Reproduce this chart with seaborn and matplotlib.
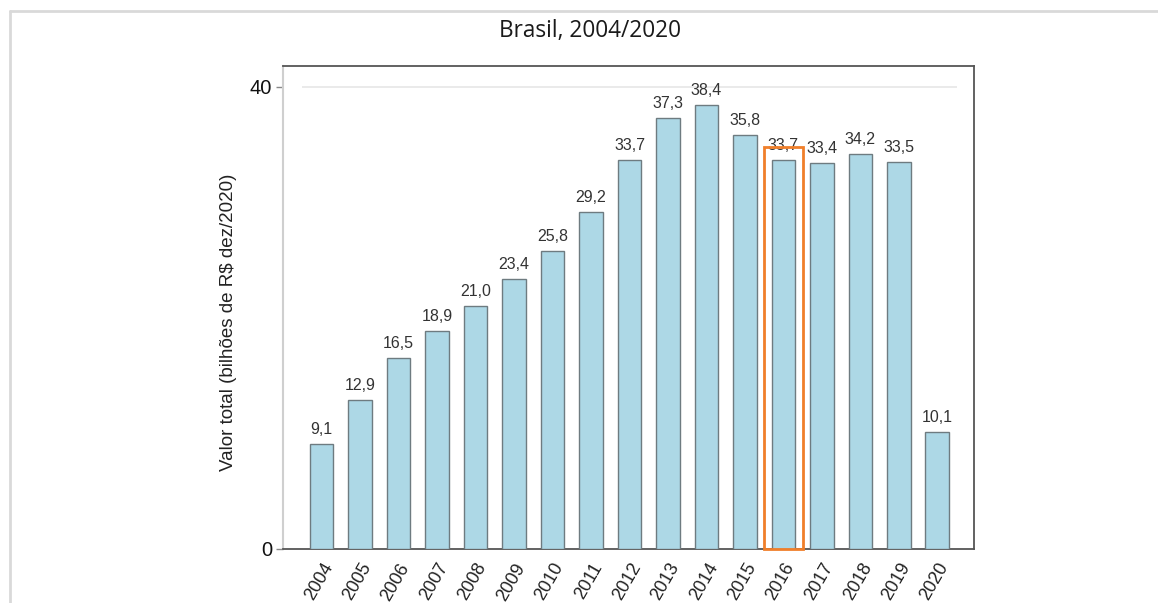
import matplotlib
matplotlib.use("Agg")
import matplotlib.pyplot as plt
from matplotlib.lines import Line2D
from matplotlib.patches import Rectangle
import seaborn as sns
import pandas as pd

# Annual totals, billions of R$ (Dec/2020 prices)
years = ["2004", "2005", "2006", "2007", "2008", "2009", "2010", "2011", "2012",
         "2013", "2014", "2015", "2016", "2017", "2018", "2019", "2020"]
values = [9.1, 12.9, 16.5, 18.9, 21.0, 23.4, 25.8, 29.2, 33.7,
          37.3, 38.4, 35.8, 33.7, 33.4, 34.2, 33.5, 10.1]
highlight_year = "2016"
highlight_top = 34.8

df = pd.DataFrame({"ano": years, "valor": values})

sns.set_theme(style="white")
plt.rcParams["font.family"] = ["Liberation Sans", "DejaVu Sans"]

fig = plt.figure(figsize=(11.58, 6.03), dpi=100)
ax = fig.add_axes([283 / 1158, 1 - 549 / 603, (974 - 283) / 1158, (549 - 66) / 603])

sns.barplot(data=df, x="ano", y="valor", ax=ax, color="#add8e6", saturation=1,
            width=0.62, edgecolor="#6e7b80", linewidth=1.0, zorder=3)

ax.set_ylim(0, 41.8)
ax.set_xlim(-1.0, len(years) - 0.05)
ax.set_yticks([0, 40])
ax.set_yticklabels(["0", "40"], fontsize=14.5, color="#111111")

# light reference line at 40
ax.hlines(40, -0.5, len(years) - 0.5, color="#e6e6e6", linewidth=1.2, zorder=1)

# value labels
for i, v in enumerate(values):
    ax.text(i, v + 0.6, f"{v:.1f}".replace(".", ","), ha="center", va="bottom",
            fontsize=11.5, color="#333333", zorder=5)

# highlighted year
hi = years.index(highlight_year)
ax.add_patch(Rectangle((hi - 0.5, 0), 1.0, highlight_top, fill=False,
                       edgecolor="#f07f2a", linewidth=2.0, zorder=6, clip_on=False))

ax.set_xlabel("")
ax.set_ylabel("Valor total (bilhões de R$ dez/2020)", fontsize=13.5, color="#222222")
ax.yaxis.set_label_coords(-0.066, 0.47)
plt.setp(ax.get_xticklabels(), rotation=60, ha="right", rotation_mode="anchor",
         fontsize=13, color="#222222")

ax.tick_params(axis="y", which="both", left=True, length=5, width=1, color="#888888", pad=3)
ax.tick_params(axis="x", which="both", bottom=False, pad=2)

for side in ["top", "right", "bottom"]:
    ax.spines[side].set_color("#555555")
    ax.spines[side].set_linewidth(1.3)
ax.spines["left"].set_color("#cfcfcf")
ax.spines["left"].set_linewidth(1.5)

fig.text(590 / 1158, 1 - 31 / 603, "Brasil, 2004/2020", ha="center", va="center",
         fontsize=16.3, color="#1a1a1a", family=["Open Sans", "DejaVu Sans"])

# outer frame (top and left edges)
fig.add_artist(Line2D([9.5 / 1158, 1.0], [1 - 11 / 603, 1 - 11 / 603],
                      transform=fig.transFigure, color="#d9d9d9", linewidth=2))
fig.add_artist(Line2D([9.5 / 1158, 9.5 / 1158], [0, 1 - 11 / 603],
                      transform=fig.transFigure, color="#d9d9d9", linewidth=2))

fig.savefig("out.png", dpi=100, facecolor="white")
